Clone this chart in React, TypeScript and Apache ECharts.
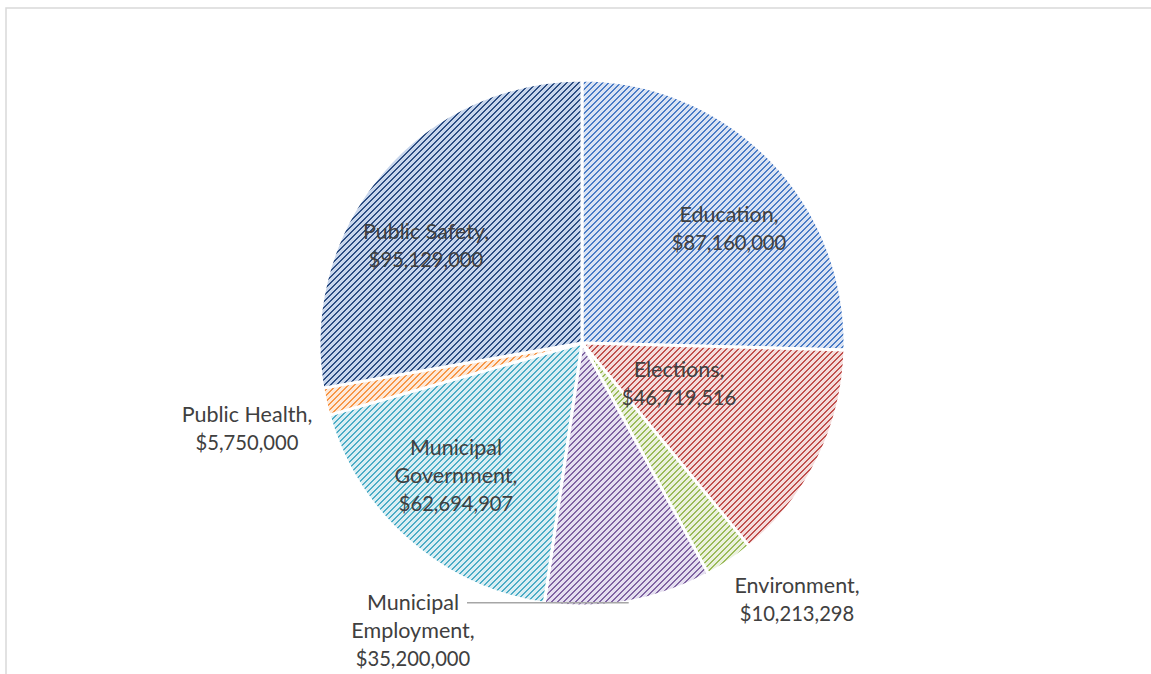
import React, { useEffect, useRef } from "react";
import * as echarts from "echarts";

const categories = [
  "Education",
  "Elections",
  "Environment",
  "Municipal Employment",
  "Municipal Government",
  "Public Health",
  "Public Safety",
];
const values = [87160000, 46719516, 10213298, 35200000, 62694907, 5750000, 95129000];

// styles
const stripeColors = ["#4a7cc6", "#c0504d", "#9bbb59", "#8064a2", "#4bacc6", "#f79646", "#2c4d82"];
const bgColors = ["#dae3f3", "#f4dcdb", "#ebf1de", "#e5dff0", "#daeef3", "#fde9d9", "#c8d6ec"];
// label anchors as offsets from pie centre (px)
const labelOffsets: [number, number][] = [
  [147, -115],
  [97, 40],
  [215, 256],
  [-169, 287],
  [-126, 132],
  [-335, 85],
  [-156, -98],
];
const showLeader = [false, false, false, true, false, false, false];

const CX = 582;
const CY = 343;
const R = 263;

function makePattern(bg: string, fg: string, P = 6, w = 2) {
  const c = document.createElement("canvas");
  c.width = P;
  c.height = P;
  const ctx = c.getContext("2d")!;
  ctx.fillStyle = bg;
  ctx.fillRect(0, 0, P, P);
  ctx.fillStyle = fg;
  for (let x = 0; x < P; x++) {
    for (let y = 0; y < P; y++) {
      if ((x + y) % P < w) ctx.fillRect(x, y, 1, 1);
    }
  }
  return c;
}

function fmt(v: number) {
  return "$" + v.toLocaleString("en-US");
}

export default function App() {
  const ref = useRef<HTMLDivElement>(null);
  useEffect(() => {
    if (!ref.current) return;
    const chart = echarts.init(ref.current, null, { renderer: "svg" });
    const total = values.reduce((a, b) => a + b, 0);
    let cum = 0;
    const mids = values.map((v) => {
      const m = (cum + v / 2) / total;
      cum += v;
      return m * Math.PI * 2;
    });
    const data = categories.map((name, i) => ({
      name,
      value: values[i],
      itemStyle: {
        color: { image: makePattern(bgColors[i], stripeColors[i]), repeat: "repeat" } as any,
      },
    }));
    const leaders: any[] = [];
    categories.forEach((_, i) => {
      if (!showLeader[i]) return;
      const a = mids[i];
      const ex = CX + R * Math.sin(a);
      const ey = CY - R * Math.cos(a);
      const lx = CX + labelOffsets[i][0] + 54;
      leaders.push({
        type: "polyline",
        shape: { points: [[ex, ey + 1], [lx, ey + 1]] },
        style: { stroke: "#a6a6a6", lineWidth: 1.5, fill: "none" },
        silent: true,
        z: 10,
      });
    });
    chart.setOption({
      animation: false,
      backgroundColor: "#ffffff",
      graphic: [
        {
          type: "rect",
          shape: { x: 6, y: 8, width: 1300, height: 800 },
          style: { fill: "none", stroke: "#d9d9d9", lineWidth: 1.5 },
          silent: true,
        },
        ...leaders,
      ],
      series: [
        {
          type: "pie",
          center: [CX, CY],
          radius: [0, R],
          startAngle: 90,
          clockwise: true,
          avoidLabelOverlap: false,
          itemStyle: { borderColor: "#ffffff", borderWidth: 3 },
          labelLine: { show: false },
          label: {
            show: true,
            position: "inside",
            color: "#404040",
            fontFamily: "Lato",
            align: "center",
            rich: {
              n: { fontSize: 21.5, lineHeight: 28, color: "#404040", fontFamily: "Lato", align: "center" },
              v: { fontSize: 20.2, lineHeight: 28, color: "#404040", fontFamily: "Lato", align: "center" },
            },
            formatter: (p: any) => {
              const parts: string[] = p.name.startsWith("Municipal")
                ? [p.name.split(" ")[0], p.name.split(" ")[1] + ","]
                : [p.name + ","];
              return parts.map((s) => "{n|" + s + "}").join("\n") + "\n{v|" + fmt(p.value) + "}";
            },
          },
          labelLayout: (p: any) => {
            const [dx, dy] = labelOffsets[p.dataIndex];
            return {
              x: CX + dx,
              y: CY + dy,
              align: "center",
              verticalAlign: "middle",
            };
          },
          data,
        },
      ],
    });
    return () => chart.dispose();
  }, []);
  return (
    <div
      ref={ref}
      style={{ position: "fixed", left: 0, top: 0, width: 1151, height: 674 }}
    />
  );
}
